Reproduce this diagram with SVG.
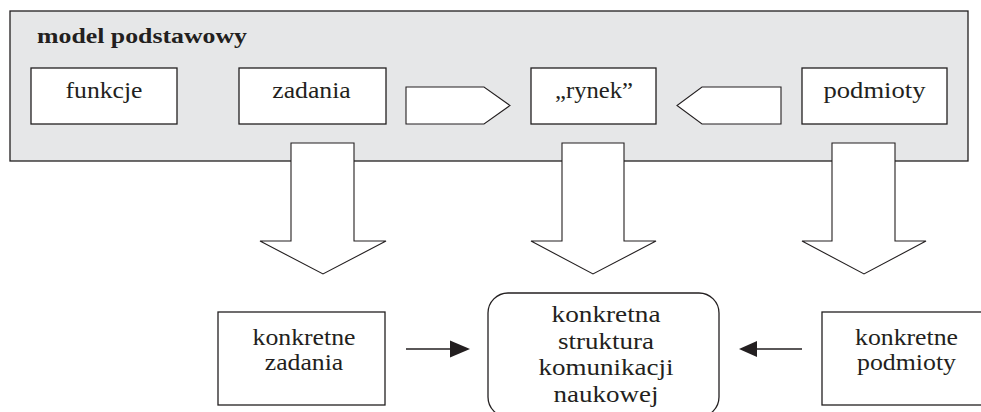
<svg xmlns="http://www.w3.org/2000/svg" width="981" height="412" viewBox="0 0 981 412">
  <style>
    .frame { fill: #e6e7e8; stroke: #231f20; stroke-width: 1.3; }
    .box { fill: #ffffff; stroke: #231f20; stroke-width: 1.3; }
    .block { fill: #ffffff; stroke: #231f20; stroke-width: 1.1; stroke-linejoin: miter; }
    .line { fill: none; stroke: #231f20; stroke-width: 1.3; }
    .head { fill: #231f20; stroke: none; }
    .lbl { font-family: 'Liberation Serif', 'Times New Roman', serif; font-size: 23px; fill: #231f20; text-anchor: middle; }
    .title { font-family: 'Liberation Serif', 'Times New Roman', serif; font-size: 22px; font-weight: bold; fill: #231f20; }
  </style>

  <!-- base model frame -->
  <g id="model-podstawowy">
    <rect class="frame" x="10" y="11" width="958" height="150"/>
    <text class="title" x="37" y="42.5" textLength="210" lengthAdjust="spacingAndGlyphs">model podstawowy</text>
  </g>

  <g id="funkcje">
    <rect class="box" x="31" y="68" width="146" height="56"/>
    <text class="lbl" x="104" y="98" textLength="77" lengthAdjust="spacingAndGlyphs">funkcje</text>
  </g>

  <g id="zadania">
    <rect class="box" x="239" y="68" width="147" height="56"/>
    <text class="lbl" x="311.5" y="98" textLength="78.5" lengthAdjust="spacingAndGlyphs">zadania</text>
  </g>

  <g id="rynek">
    <rect class="box" x="531" y="68" width="125" height="56"/>
    <text class="lbl" x="594" y="98" textLength="78" lengthAdjust="spacingAndGlyphs">„rynek”</text>
  </g>

  <g id="podmioty">
    <rect class="box" x="802" y="68" width="145" height="56"/>
    <text class="lbl" x="874.5" y="98" textLength="102" lengthAdjust="spacingAndGlyphs">podmioty</text>
  </g>

  <!-- block arrows and connectors -->
  <g id="connectors">
    <polygon class="block" points="406,87 484,87 510,105.5 484,124 406,124"/>
    <polygon class="block" points="781,87 702,87 677,105.5 702,124 781,124"/>

    <polygon class="block" points="291,143 354,143 354,241 386,241 323,274 260,241 291,241"/>
    <polygon class="block" points="562,143 624,143 624,241 656,241 593,274 531,241 562,241"/>
    <polygon class="block" points="832,143 895,143 895,241 926,241 864,274 802,241 832,241"/>

    <line class="line" x1="406" y1="349" x2="452" y2="349"/>
    <polygon class="head" points="450,340.5 470,349 450,357.5"/>
    <line class="line" x1="802" y1="349" x2="756" y2="349"/>
    <polygon class="head" points="757,341 739,349 757,357"/>
  </g>

  <g id="konkretne-zadania">
    <rect class="box" x="218" y="312" width="167" height="93"/>
    <text class="lbl" x="304" y="345" textLength="103" lengthAdjust="spacingAndGlyphs">konkretne</text>
    <text class="lbl" x="304" y="370" textLength="78.5" lengthAdjust="spacingAndGlyphs">zadania</text>
  </g>

  <g id="konkretna-struktura">
    <rect class="box" x="488" y="293" width="231" height="124" rx="20" ry="20"/>
    <text class="lbl" x="606" y="322" textLength="109" lengthAdjust="spacingAndGlyphs">konkretna</text>
    <text class="lbl" x="606" y="348.5" textLength="96" lengthAdjust="spacingAndGlyphs">struktura</text>
    <text class="lbl" x="606" y="375" textLength="135" lengthAdjust="spacingAndGlyphs">komunikacji</text>
    <text class="lbl" x="606" y="401.5" textLength="105" lengthAdjust="spacingAndGlyphs">naukowej</text>
  </g>

  <g id="konkretne-podmioty">
    <rect class="box" x="822" y="312" width="170" height="93"/>
    <text class="lbl" x="906.5" y="345" textLength="103" lengthAdjust="spacingAndGlyphs">konkretne</text>
    <text class="lbl" x="906.5" y="370" textLength="99" lengthAdjust="spacingAndGlyphs">podmioty</text>
  </g>
</svg>
